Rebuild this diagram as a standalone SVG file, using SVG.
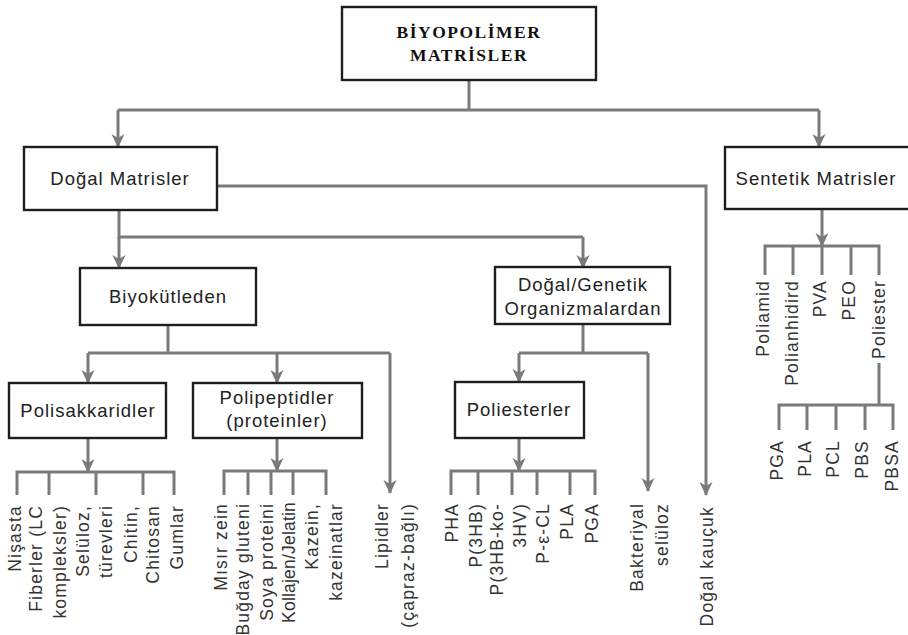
<svg xmlns="http://www.w3.org/2000/svg" width="908" height="635" viewBox="0 0 908 635">
<defs>
<marker id="arr" viewBox="0 0 14 14" refX="13" refY="7" markerWidth="14" markerHeight="14" markerUnits="userSpaceOnUse" orient="auto">
<path d="M0,0.5 L14,7 L0,13.5 L4,7 Z" fill="#7a7a7a"/>
</marker>
<style>
.box{fill:#fff;stroke:#1e1e1e;stroke-width:2.4}
.lbl{font-family:"Liberation Sans",Arial,sans-serif;font-size:18.5px;letter-spacing:1px;fill:#222;text-anchor:middle}
.ttl{font-family:"Liberation Serif","Times New Roman",serif;font-weight:bold;font-size:17.5px;letter-spacing:1.5px;fill:#111;text-anchor:middle}
.c{fill:none;stroke:#7a7a7a;stroke-width:3}
.a{marker-end:url(#arr)}
.v{font-family:"Liberation Sans",Arial,sans-serif;font-size:17.5px;letter-spacing:1.2px;fill:#333;text-anchor:end}
.tight{letter-spacing:0.2px}
</style>
</defs>
<rect width="908" height="635" fill="#fff"/>

<g id="connectors">
<path class="c" d="M469,81 V110 M118,110 H819"/>
<path class="c a" d="M118,110 V147"/>
<path class="c a" d="M819,110 V147"/>
<path class="c" d="M119,210 V237 H583"/>
<path class="c a" d="M119,237 V268"/>
<path class="c a" d="M583,237 V268"/>
<path class="c a" d="M217,186 H706 V495"/>
<path class="c a" d="M822,209 V246"/>
<path class="c" d="M168,325 V353 M88,353 H390"/>
<path class="c a" d="M390,353 V493"/>
<path class="c a" d="M88,353 V383"/>
<path class="c a" d="M277,353 V383"/>
<path class="c" d="M583,324 V353 M519,353 H648"/>
<path class="c a" d="M648,353 V491"/>
<path class="c a" d="M519,353 V382"/>
<path class="c a" d="M88,438 V472"/>
<path class="c" d="M17,495 V472 H174 V495 M49,472 V495 M96,472 V495 M143,472 V495"/>
<path class="c a" d="M277,438 V471"/>
<path class="c" d="M224,495 V471 H326 V495 M248,471 V495 M271,471 V495 M293,471 V495"/>
<path class="c a" d="M519,438 V471"/>
<path class="c" d="M451,495 V471 H595 V495 M478,471 V495 M512,471 V495 M537,471 V495 M570,471 V495"/>
<path class="c" d="M765,275 V246 H879 V275 M793,246 V275 M822,246 V275 M851,246 V275"/>
<path class="c" d="M879,363 V405 M779,430 V405 H893 V430 M807,405 V430 M836,405 V430 M865,405 V430"/>
</g>

<g id="biyopolimer">
<rect class="box" x="342" y="7" width="254" height="73"/>
<text class="ttl" x="469" y="38">BİYOPOLİMER</text>
<text class="ttl" x="469" y="61">MATRİSLER</text>
</g>

<g id="dogal-matrisler">
<rect class="box" x="24" y="147" width="193" height="63"/>
<text class="lbl" x="120" y="185">Doğal Matrisler</text>
</g>

<g id="sentetik-matrisler">
<rect class="box" x="725" y="147" width="190" height="62"/>
<text class="lbl" x="816" y="185">Sentetik Matrisler</text>
</g>

<g id="biyokutleden">
<rect class="box" x="80" y="268" width="176" height="57"/>
<text class="lbl" x="168" y="303">Biyokütleden</text>
</g>

<g id="dogal-genetik">
<rect class="box" x="495" y="267" width="175" height="57"/>
<text class="lbl" x="583" y="291">Doğal/Genetik</text>
<text class="lbl" x="583" y="315">Organizmalardan</text>
</g>

<g id="polisakkaridler">
<rect class="box" x="9" y="383" width="157" height="55"/>
<text class="lbl" x="88" y="417">Polisakkaridler</text>
</g>

<g id="polipeptidler">
<rect class="box" x="193" y="383" width="169" height="55"/>
<text class="lbl" x="277" y="404">Polipeptidler</text>
<text class="lbl" x="277" y="427">(proteinler)</text>
</g>

<g id="poliesterler">
<rect class="box" x="455" y="382" width="129" height="56"/>
<text class="lbl" x="519" y="416">Poliesterler</text>
</g>

<g id="polisakkarit-items">
<text class="v" transform="translate(21,505) rotate(-90)">Nişasta</text>
<text class="v" transform="translate(42,505) rotate(-90)">Fiberler (LC</text>
<text class="v" transform="translate(66,505) rotate(-90)">kompleksler)</text>
<text class="v" transform="translate(89,505) rotate(-90)">Selüloz,</text>
<text class="v" transform="translate(112,505) rotate(-90)">türevleri</text>
<text class="v" transform="translate(137,505) rotate(-90)">Chitin,</text>
<text class="v" transform="translate(159,505) rotate(-90)">Chitosan</text>
<text class="v" transform="translate(183,505) rotate(-90)">Gumlar</text>
</g>

<g id="polipeptit-items">
<text class="v" transform="translate(227,503) rotate(-90)">Mısır zein</text>
<text class="v" transform="translate(249,503) rotate(-90)">Buğday gluteni</text>
<text class="v" transform="translate(273,503) rotate(-90)">Soya proteini</text>
<text class="v tight" transform="translate(295,502) rotate(-90)">Kollajen/Jelatin</text>
<text class="v" transform="translate(318,503) rotate(-90)">Kazein,</text>
<text class="v" transform="translate(342,503) rotate(-90)">kazeinatlar</text>
</g>

<g id="lipidler">
<text class="v" transform="translate(388,503) rotate(-90)">Lipidler</text>
<text class="v" transform="translate(414,503) rotate(-90)">(çapraz-bağlı)</text>
</g>

<g id="poliester-items">
<text class="v" transform="translate(458,503) rotate(-90)">PHA</text>
<text class="v" transform="translate(482,503) rotate(-90)">P(3HB)</text>
<text class="v" transform="translate(503,503) rotate(-90)">P(3HB-ko-</text>
<text class="v" transform="translate(526,503) rotate(-90)">3HV)</text>
<text class="v" transform="translate(549,503) rotate(-90)">P-ε-CL</text>
<text class="v" transform="translate(573,503) rotate(-90)">PLA</text>
<text class="v" transform="translate(598,503) rotate(-90)">PGA</text>
</g>

<g id="bakteriyal-seluloz">
<text class="v" transform="translate(643,503) rotate(-90)">Bakteriyal</text>
<text class="v" transform="translate(668,503) rotate(-90)">selüloz</text>
</g>

<g id="dogal-kaucuk">
<text class="v" transform="translate(713,506) rotate(-90)">Doğal kauçuk</text>
</g>

<g id="sentetik-items">
<text class="v" transform="translate(769,280) rotate(-90)">Poliamid</text>
<text class="v" transform="translate(798,280) rotate(-90)">Polianhidird</text>
<text class="v" transform="translate(826,280) rotate(-90)">PVA</text>
<text class="v" transform="translate(855,280) rotate(-90)">PEO</text>
<text class="v" transform="translate(885,280) rotate(-90)">Poliester</text>
</g>

<g id="sentetik-poliester-items">
<text class="v" transform="translate(783,440) rotate(-90)">PGA</text>
<text class="v" transform="translate(811,440) rotate(-90)">PLA</text>
<text class="v" transform="translate(839,440) rotate(-90)">PCL</text>
<text class="v" transform="translate(868,440) rotate(-90)">PBS</text>
<text class="v" transform="translate(898,440) rotate(-90)">PBSA</text>
</g>
</svg>
